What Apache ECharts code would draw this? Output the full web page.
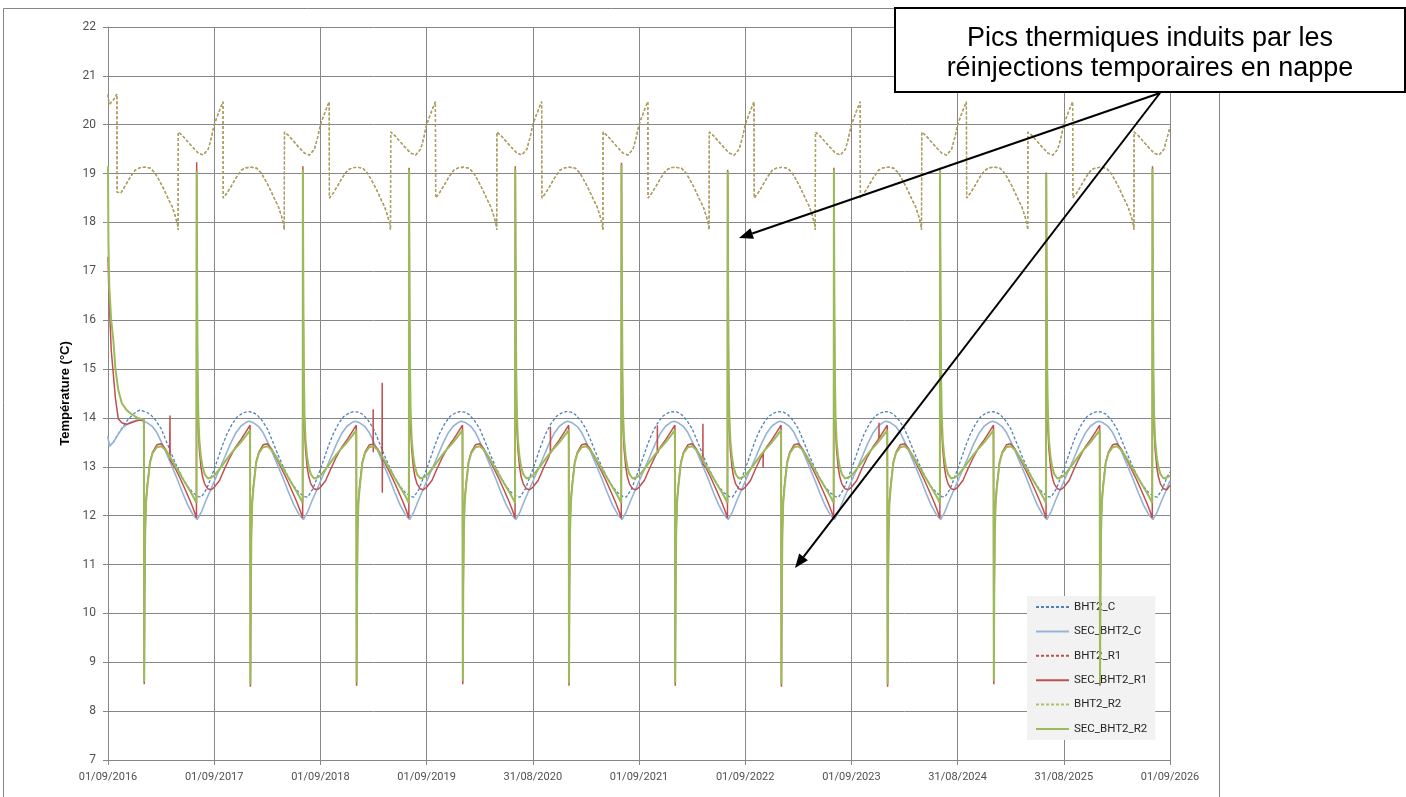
<!DOCTYPE html>
<html><head><meta charset="utf-8">
<script src="https://cdn.jsdelivr.net/npm/echarts@6/dist/echarts.min.js"></script>
<style>html,body{margin:0;padding:0;background:#fff}#c{width:1406px;height:797px}</style>
</head><body><div id="c"></div>
<script>
// X tick labels (one per year, axis in years since 01/09/2016)
const xLabels = ['01/09/2016','01/09/2017','01/09/2018','01/09/2019','31/08/2020','01/09/2021','01/09/2022','01/09/2023','31/08/2024','31/08/2025','01/09/2026'];
const seriesNames = ['BHT2_C','SEC_BHT2_C','BHT2_R1','SEC_BHT2_R1','BHT2_R2','SEC_BHT2_R2'];

// BHT2_C (blue dashed): first-year start, then yearly cycle (phase within year, value)
const bhtCHead = [[0,13.62],[0.012,13.42],[0.05,13.5],[0.09,13.65],[0.14,13.82],[0.19,13.97],[0.23,14.06],[0.27,14.13],[0.30,14.16]];
const bhtCPhase = [0,.04,.08,.12,.17,.22,.27,.31,.36,.40,.45,.50,.55,.60,.65,.70,.75,.80,.85,.88,.93,.97];
const bhtCCycle = [12.95,13.2,13.45,13.67,13.88,14.03,14.10,14.13,14.12,14.07,13.95,13.78,13.52,13.25,13.00,12.78,12.60,12.47,12.39,12.38,12.55,12.78];
const bhtCEnd = 12.9;

// SEC_BHT2_C (light blue solid)
const secCHead = [[0,13.62],[0.012,13.42],[0.05,13.5],[0.10,13.68],[0.14,13.8],[0.2,13.9],[0.26,13.95],[0.3,13.97]];
const secCPhase = [0,.05,.10,.15,.20,.25,.30,.33,.37,.42,.46,.50,.55,.60,.65,.70,.75,.80,.84,.88,.92,.96];
const secCCycle = [12.7,12.95,13.2,13.46,13.68,13.83,13.91,13.93,13.9,13.82,13.7,13.52,13.28,13.02,12.76,12.48,12.22,12.02,11.92,12.08,12.3,12.5];
const secCEnd = 12.72;

// BHT2_R1 / BHT2_R2 (dashed, upper curve; both series coincide)
const bhtRHead = [[0,20.62],[0.006,20.48],[0.015,20.42],[0.04,20.48],[0.065,20.55],[0.084,20.63],[0.0855,18.62]];
const bhtRPhase = [0,.03,.06,.083,.085,.12,.162,.21,.256,.30,.35,.40,.44,.473,.51,.539,.575,.605,.635,.655,.66,.662,.70,.74,.793,.85,.897,.944,.975];
const bhtRCycle = [20.0,20.18,20.35,20.47,18.5,18.6,18.75,18.93,19.07,19.12,19.13,19.11,19.02,18.9,18.75,18.62,18.45,18.32,18.12,17.95,17.85,19.85,19.78,19.68,19.55,19.42,19.38,19.5,19.75];
const bhtREnd = 19.95;

// SEC_BHT2_R1 (red solid) and SEC_BHT2_R2 (green solid); 'D' = yearly low peak, 'U' = yearly high peak
const secRPhase = [0,.05,.10,.15,.20,.25,.30,.338,.341,.345,.35,.358,.37,.395,.42,.46,.50,.54,.58,.63,.68,.73,.78,.81,.833,.835,.839,.844,.85,.86,.875,.89,.91,.94,.97];
const secR1Cycle = [12.58,12.72,12.97,13.2,13.4,13.55,13.72,13.85,'D',10.5,11.7,12.3,12.62,13.1,13.3,13.45,13.47,13.37,13.2,12.98,12.76,12.52,12.27,12.1,11.95,'U',16.0,14.5,13.8,13.35,13.0,12.8,12.65,12.55,12.53];
const secR2Cycle = [12.82,12.95,13.1,13.25,13.38,13.5,13.64,13.75,'D',10.4,11.6,12.25,12.58,13.08,13.28,13.4,13.42,13.35,13.22,13.03,12.85,12.66,12.48,12.36,12.26,'U',16.8,15.0,14.1,13.55,13.2,13.0,12.85,12.76,12.78];
const secR1Head = [[0,17.3],[0.008,16.6],[0.019,16.0],[0.03,15.4],[0.05,14.9],[0.07,14.4],[0.097,13.98],[0.13,13.9],[0.176,13.87],[0.22,13.9],[0.27,13.94],[0.338,13.97]];
const secR2Head = [[0,19.15],[0.004,17.6],[0.012,16.7],[0.03,16.0],[0.05,15.6],[0.07,15.0],[0.097,14.57],[0.13,14.3],[0.176,14.16],[0.22,14.08],[0.27,14.01],[0.338,13.96]];
const secR1Up = [19.23,19.15,19.12,19.15,19.22,19.08,19.12,19.12,19.02,19.15];
const secR2Up = [19.05,19.08,19.08,19.1,19.18,19.05,19.08,19.08,19.0,19.1];
const secR1Down = [8.55,8.5,8.52,8.55,8.52,8.52,8.5,8.5,8.55,8.52];
const secR2Down = [8.6,8.55,8.58,8.62,8.58,8.58,8.55,8.55,8.62,8.58];
// isolated short red glitches
const secR1Extra = [[0.583,13.18],[0.584,14.05],[0.585,13.14],[0.586,13.17],
  [2.496,13.46],[2.497,14.18],[2.498,13.3],[2.499,13.45],
  [2.581,13.19],[2.582,14.72],[2.583,12.47],[2.584,13.18],
  [4.165,13.3],[4.166,13.82],[4.167,13.28],
  [5.172,13.3],[5.173,13.85],[5.174,13.28],
  [5.601,13.1],[5.602,13.88],[5.603,13.05],
  [6.168,13.27],[6.169,12.98],[6.17,13.28],
  [7.259,13.6],[7.26,13.9],[7.261,13.58]];
const secR1End = 12.62, secR2End = 12.82;

function build(head, cut, phase, cycle, up, down, end, extra){
  const out = head.slice();
  for (let k = 0; k < 10; k++) {
    phase.forEach((p, i) => {
      if (k === 0 && p < cut) return;
      let v = cycle[i];
      if (v === 'U') v = up[k]; else if (v === 'D') v = down[k];
      out.push([k + p, v]);
    });
  }
  out.push([10, end]);
  if (extra) { extra.forEach(e => out.push(e)); out.sort((a, b) => a[0] - b[0]); }
  return out;
}

const dBhtC = build(bhtCHead, 0.305, bhtCPhase, bhtCCycle, null, null, bhtCEnd);
const dSecC = build(secCHead, 0.32, secCPhase, secCCycle, null, null, secCEnd);
const dBhtR = build(bhtRHead, 0.1, bhtRPhase, bhtRCycle, null, null, bhtREnd);
const dSecR1 = build(secR1Head, 0.34, secRPhase, secR1Cycle, secR1Up, secR1Down, secR1End, secR1Extra);
const dSecR2 = build(secR2Head, 0.34, secRPhase, secR2Cycle, secR2Up, secR2Down, secR2End);

const chart = echarts.init(document.getElementById('c'), null, {renderer: 'canvas'});
const gridCol = '#878787';
const lblFont = 'Roboto, sans-serif';

function mkLine(name, data, color, width, dashed, z, opacity){
  return {name, type:'line', data, symbol:'none', showSymbol:false, z:z, animation:false,
    lineStyle:{color, width, type: dashed ? [3,2] : 'solid', opacity: opacity == null ? 1 : opacity}, itemStyle:{color}};
}

function arrow(x1, y1, x2, y2){
  const dx = x2 - x1, dy = y2 - y1, L = Math.hypot(dx, dy), ux = dx / L, uy = dy / L;
  const hl = 14, hw = 5.5, bx = x2 - ux * hl, by = y2 - uy * hl;
  return [
    {type:'line', z:100, shape:{x1, y1, x2:bx, y2:by}, style:{stroke:'#000', lineWidth:2}},
    {type:'polygon', z:100, shape:{points:[[x2,y2],[bx-uy*hw,by+ux*hw],[bx+uy*hw,by-ux*hw]]}, style:{fill:'#000'}}
  ];
}

chart.setOption({
  backgroundColor:'#fff',
  animation:false,
  grid:{left:108, right:236, top:27, bottom:37, containLabel:false},
  xAxis:{type:'value', min:0, max:10, interval:1,
    axisLine:{show:true, onZero:false, lineStyle:{color:gridCol}},
    axisTick:{show:true, length:5, lineStyle:{color:gridCol}},
    splitLine:{show:true, lineStyle:{color:gridCol, width:1}},
    axisLabel:{formatter: v => xLabels[Math.round(v)], color:'#505050', fontSize:11, fontFamily:lblFont, margin:12}},
  yAxis:{type:'value', min:7, max:22, interval:1,
    name:'Température (°C)', nameLocation:'middle', nameGap:35,
    nameTextStyle:{fontWeight:'bold', fontSize:13, color:'#000', fontFamily:'"Liberation Sans", Arial, sans-serif'},
    axisLine:{show:true, lineStyle:{color:gridCol}},
    axisTick:{show:true, length:5, lineStyle:{color:gridCol}},
    splitLine:{show:true, lineStyle:{color:gridCol, width:1}},
    axisLabel:{color:'#505050', fontSize:12, fontFamily:lblFont, margin:12}},
  legend:{orient:'vertical', left:1027, top:596, data:seriesNames,
    backgroundColor:'#f2f2f2', padding:[5,8,5,8], itemWidth:33, itemHeight:12, itemGap:12.4,
    itemStyle:{opacity:0},
    textStyle:{color:'#262626', fontSize:11.5, fontFamily:'Roboto, sans-serif'}},
  series:[
    mkLine('BHT2_C', dBhtC, '#4F81BD', 1.3, true, 2),
    mkLine('SEC_BHT2_C', dSecC, '#95B3D7', 1.6, false, 3),
    mkLine('BHT2_R1', dBhtR, '#C0504D', 1.3, true, 4),
    mkLine('SEC_BHT2_R1', dSecR1, '#C0504D', 1.5, false, 5),
    mkLine('BHT2_R2', dBhtR, '#9BBB59', 1.3, true, 6, 0.85),
    mkLine('SEC_BHT2_R2', dSecR2, '#9BBB59', 2, false, 7)
  ],
  graphic:[
    {type:'polyline', z:0, silent:true, shape:{points:[[3.5,797],[3.5,8.5],[1219.5,8.5],[1219.5,797]]}, style:{stroke:'#868686', lineWidth:1, fill:null}},
    {type:'rect', z:100, shape:{x:895, y:8, width:510, height:84}, style:{fill:'#fff', stroke:'#000', lineWidth:2}},
    {type:'text', z:101, x:1150, y:54, style:{text:'Pics thermiques induits par les\nréinjections temporaires en nappe', textAlign:'center', textVerticalAlign:'middle', font:'27px "Liberation Sans", Arial, sans-serif', lineHeight:30, fill:'#000'}},
    ...arrow(1160, 93, 739, 238),
    ...arrow(1160, 93, 795, 568)
  ]
});
</script></body></html>
